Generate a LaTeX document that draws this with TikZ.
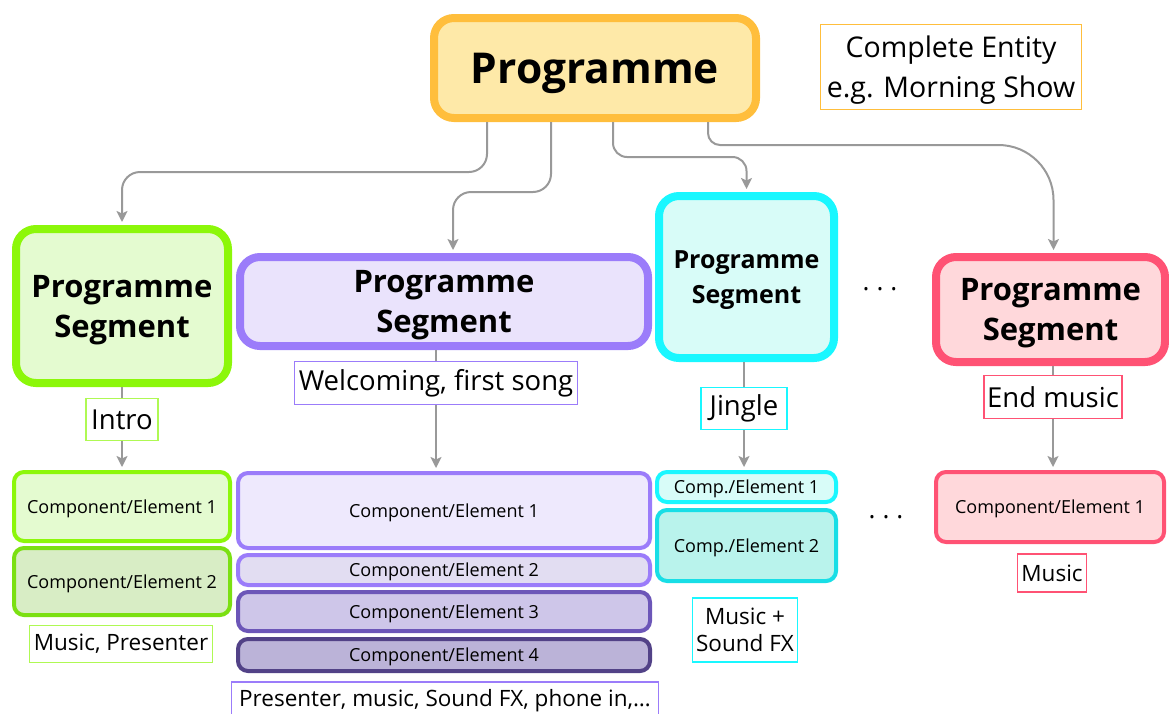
\documentclass[tikz,border=0pt]{standalone}
\usepackage{fontspec}
\setmainfont{Open Sans}
\usetikzlibrary{arrows.meta}

\definecolor{progline}{HTML}{FFBE3C}
\definecolor{progfill}{HTML}{FEE9A8}
\definecolor{greenline}{HTML}{8CF70A}
\definecolor{greenfill}{HTML}{E4FBD0}
\definecolor{greenlineb}{HTML}{7BE012}
\definecolor{greenfillb}{HTML}{D8EDC5}
\definecolor{purpleline}{HTML}{9B7CFA}
\definecolor{purplefill}{HTML}{EAE3FC}
\definecolor{purplefillb}{HTML}{E2DDF2}
\definecolor{purplelinec}{HTML}{6C56B8}
\definecolor{purplefillc}{HTML}{CEC6E9}
\definecolor{purplelined}{HTML}{524287}
\definecolor{purplefilld}{HTML}{BBB3D8}
\definecolor{cyanline}{HTML}{19F7FF}
\definecolor{cyanfill}{HTML}{D8FCF8}
\definecolor{cyanlineb}{HTML}{18DEE6}
\definecolor{cyanfillb}{HTML}{B9F3EC}
\definecolor{redline}{HTML}{FF5274}
\definecolor{redfill}{HTML}{FFD8DB}
\definecolor{linkgray}{HTML}{999999}

\tikzset{
  segbox/.style={line width=8pt, rounded corners=20pt, align=center, inner sep=0pt,
    text depth=0pt, font=\bfseries\fontsize{31}{40}\selectfont},
  compbox/.style={line width=4pt, rounded corners=10pt, inner sep=0pt, text depth=0pt,
    font=\fontsize{18}{20}\selectfont},
  tagbox/.style={draw=#1, line width=1.3pt, fill=white, inner sep=0pt, align=center,
    font=\fontsize{27.5}{30}\selectfont},
  notebox/.style={tagbox=#1, font=\fontsize{22.5}{27}\selectfont},
  link/.style={draw=linkgray, line width=2pt},
  arr/.style={link, -{Stealth[length=11pt,width=11pt,inset=2.5pt]}, shorten >=3pt},
  dotsnode/.style={font=\fontsize{26}{30}\selectfont},
}

\begin{document}
\begin{tikzpicture}[x=1pt,y=-1pt]
  \useasboundingbox (0,0) rectangle (1169,713);

  % top level
  \node[segbox, draw=progline, fill=progfill, minimum width=322pt, minimum height=100pt,
    font=\bfseries\fontsize{42.5}{50}\selectfont] (prog) at (595,68) {Programme};
  \node[tagbox=progline, minimum width=261pt, minimum height=85pt, text depth=0pt,
    font=\fontsize{28.5}{40}\selectfont] (entity) at (951,67) {Complete Entity\\e.g. Morning Show};

  % segments
  \node[segbox, draw=greenline, fill=greenfill, minimum width=212pt, minimum height=154pt]
    (seg1) at (122,306) {Programme\\Segment};
  \node[segbox, draw=purpleline, fill=purplefill, minimum width=408pt, minimum height=89pt]
    (seg2) at (444,301.5) {Programme\\Segment};
  \node[segbox, draw=cyanline, fill=cyanfill, minimum width=175pt, minimum height=162pt,
    font=\bfseries\fontsize{25}{35}\selectfont] (seg3) at (746.5,277) {Programme\\Segment};
  \node[segbox, draw=redline, fill=redfill, minimum width=229pt, minimum height=105pt]
    (seg4) at (1050.5,309.5) {Programme\\Segment};
  \node[dotsnode] (dotsa) at (880,289) {.\kern7pt.\kern7pt.};

  % labels
  \node[tagbox=greenline!70, minimum width=72pt, minimum height=42pt] (intro) at (122,419.5) {Intro};
  \node[tagbox=purpleline, minimum width=283pt, minimum height=43pt] (welc) at (436,383) {Welcoming, first song};
  \node[tagbox=cyanline, minimum width=86pt, minimum height=42pt] (jingle) at (744,408.5) {Jingle};
  \node[tagbox=redline, minimum width=138pt, minimum height=43pt] (endm) at (1053,397) {End music};

  % components
  \node[compbox, draw=greenline, fill=greenfill, minimum width=216pt, minimum height=69pt]
    (g1) at (122,506.5) {Component/Element 1};
  \node[compbox, draw=greenlineb, fill=greenfillb, minimum width=216pt, minimum height=67pt]
    (g2) at (122,581.5) {Component/Element 2};
  \node[compbox, draw=purpleline, fill=purplefill!80!white, minimum width=412pt, minimum height=75pt]
    (p1) at (444,510.5) {Component/Element 1};
  \node[compbox, draw=purpleline, fill=purplefillb, minimum width=412pt, minimum height=30pt]
    (p2) at (444,570) {Component/Element 2};
  \node[compbox, draw=purplelinec, fill=purplefillc, minimum width=412pt, minimum height=39pt]
    (p3) at (444,611.5) {Component/Element 3};
  \node[compbox, draw=purplelined, fill=purplefilld, minimum width=412pt, minimum height=32pt]
    (p4) at (444,655) {Component/Element 4};
  \node[compbox, draw=cyanline, fill=cyanfill, minimum width=179pt, minimum height=30pt]
    (c1) at (746.5,487) {Comp./Element 1};
  \node[compbox, draw=cyanlineb, fill=cyanfillb, minimum width=179pt, minimum height=71pt]
    (c2) at (746.5,545.5) {Comp./Element 2};
  \node[compbox, draw=redline, fill=redfill, minimum width=228pt, minimum height=70pt]
    (r1) at (1050,507) {Component/Element 1};
  \node[dotsnode] (dotsb) at (886,517) {.\kern7pt.\kern7pt.};

  % component notes
  \node[notebox=greenline!70, minimum width=183pt, minimum height=37pt] (gtag) at (121,644) {Music, Presenter};
  \node[notebox=purpleline, minimum width=427pt, minimum height=38pt] (ptag) at (445,701) {Presenter, music, Sound FX, phone in,…};
  \node[notebox=cyanline, minimum width=105pt, minimum height=64pt] (ctag) at (745,630) {Music +\\Sound FX};
  \node[notebox=redline, minimum width=69pt, minimum height=38pt] (rtag) at (1052,573) {Music};

  % programme to segments
  \draw[arr, rounded corners=18pt] ([xshift=-108pt]prog.south) -- ++(0,50) -| (seg1.north);
  \draw[arr, rounded corners=18pt] ([xshift=-44pt]prog.south) -- ++(0,70) -| ([xshift=9pt]seg2.north);
  \draw[arr, rounded corners=14pt] ([xshift=18pt]prog.south) -- ++(0,35) -| (seg3.north);
  \draw[arr] ([xshift=113pt]prog.south) [rounded corners=12pt] -- ++(0,23)
    [rounded corners=55pt] -| ([xshift=3pt]seg4.north);

  % segments to components
  \draw[link] (seg1.south -| intro) -- (intro);
  \draw[arr] (intro) -- (intro |- g1.north);
  \draw[link] (seg2.south -| welc) -- (welc);
  \draw[arr] (welc) -- (welc |- p1.north);
  \draw[link] (seg3.south -| jingle) -- (jingle);
  \draw[arr] (jingle) -- (jingle |- c1.north);
  \draw[link] (seg4.south -| endm) -- (endm);
  \draw[arr] (endm) -- (endm |- r1.north);
\end{tikzpicture}
\end{document}
